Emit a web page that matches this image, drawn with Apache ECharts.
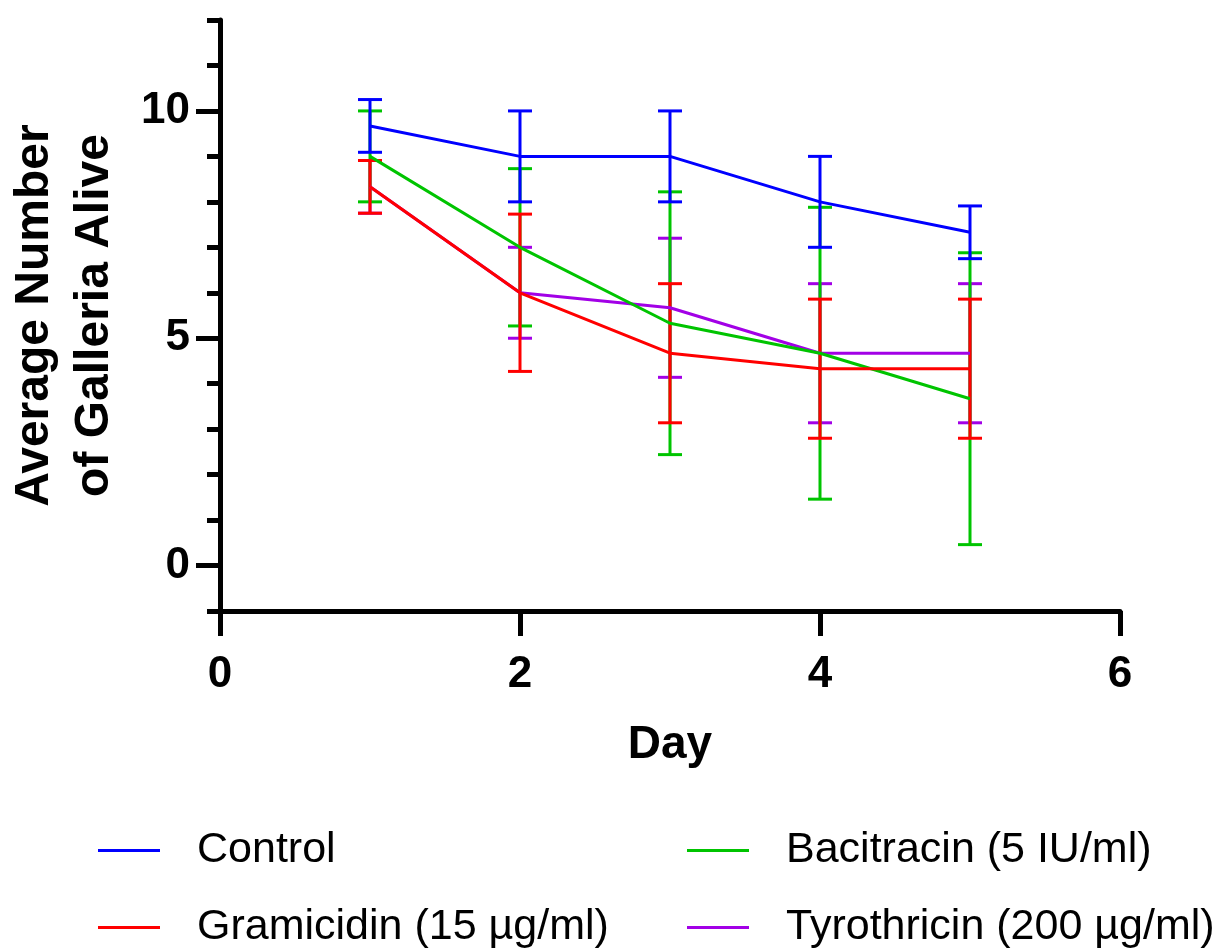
<!DOCTYPE html>
<html>
<head>
<meta charset="utf-8">
<title>Galleria survival</title>
<script src="https://cdn.jsdelivr.net/npm/echarts@6/dist/echarts.min.js"></script>
<style>
  html, body { margin: 0; padding: 0; background: #fff; }
  #chart { width: 1222px; height: 948px; }
</style>
</head>
<body>
<div id="chart"></div>
<script>
const days = [1, 2, 3, 4, 5]
const majorTicks = [0, 5, 10]

const controlMean = [9.67, 9, 9, 8, 7.33]
const controlSd = [0.58, 1, 1, 1, 0.58]
const bacitracinMean = [9, 7, 5.33, 4.67, 3.67]
const bacitracinSd = [1, 1.73, 2.89, 3.21, 3.21]
const gramicidinMean = [8.33, 6, 4.67, 4.33, 4.33]
const gramicidinSd = [0.58, 1.73, 1.53, 1.53, 1.53]
const tyrothricinMean = [8.33, 6, 5.67, 4.67, 4.67]
const tyrothricinSd = [0.58, 1, 1.53, 1.53, 1.53]

const font = '"Liberation Sans", Arial, sans-serif'

// drawn bottom to top
const groups = [
  { name: 'Tyrothricin (200 µg/ml)', color: '#a200e6', mean: tyrothricinMean, sd: tyrothricinSd },
  { name: 'Bacitracin (5 IU/ml)', color: '#00c400', mean: bacitracinMean, sd: bacitracinSd },
  { name: 'Gramicidin (15 µg/ml)', color: '#ff0000', mean: gramicidinMean, sd: gramicidinSd },
  { name: 'Control', color: '#0000ff', mean: controlMean, sd: controlSd },
]

function errorBar(color) {
  return function (params, api) {
    const x = api.value(0)
    const lo = api.coord([x, api.value(1)])
    const hi = api.coord([x, api.value(2)])
    const half = 12
    const style = { stroke: color, lineWidth: 3 }
    return {
      type: 'group',
      children: [
        { type: 'line', shape: { x1: lo[0], y1: lo[1], x2: hi[0], y2: hi[1] }, style },
        { type: 'line', shape: { x1: hi[0] - half, y1: hi[1], x2: hi[0] + half, y2: hi[1] }, style },
        { type: 'line', shape: { x1: lo[0] - half, y1: lo[1], x2: lo[0] + half, y2: lo[1] }, style },
      ],
    }
  }
}

const series = []
groups.forEach((g) => {
  series.push({
    name: g.name,
    type: 'line',
    showSymbol: false,
    color: g.color,
    lineStyle: { color: g.color, width: 3 },
    data: days.map((d, i) => [d, g.mean[i]]),
  })
  series.push({
    name: g.name + ' SD',
    type: 'custom',
    renderItem: errorBar(g.color),
    encode: { x: 0, y: [1, 2] },
    data: days.map((d, i) => [d, g.mean[i] - g.sd[i], g.mean[i] + g.sd[i]]),
  })
})

const legendBase = {
  orient: 'vertical',
  top: 829,
  height: 160,
  padding: 0,
  itemWidth: 62,
  itemHeight: 3,
  itemGap: 34,
  icon: 'rect',
  selectedMode: false,
  textStyle: { fontFamily: font, fontSize: 43, color: '#000', padding: [0, 0, 0, 32] },
}

const chart = echarts.init(document.getElementById('chart'))
chart.setOption({
  animation: false,
  grid: { left: 220, right: 102, top: 20, height: 591, outerBoundsMode: 'none', containLabel: false },
  legend: [
    Object.assign({}, legendBase, { left: 98, data: ['Control', 'Gramicidin (15 µg/ml)'] }),
    Object.assign({}, legendBase, { left: 687, data: ['Bacitracin (5 IU/ml)', 'Tyrothricin (200 µg/ml)'] }),
  ],
  xAxis: {
    type: 'value',
    min: 0,
    max: 6,
    interval: 2,
    name: 'Day',
    nameLocation: 'middle',
    nameGap: 111,
    nameTextStyle: { fontFamily: font, fontSize: 46, fontWeight: 'bold', color: '#000' },
    axisLine: { onZero: false, lineStyle: { color: '#000', width: 5 } },
    axisTick: { length: 25, lineStyle: { color: '#000', width: 5 } },
    axisLabel: { margin: 42, fontFamily: font, fontSize: 44, fontWeight: 'bold', color: '#000' },
    splitLine: { show: false },
  },
  yAxis: [
    {
      type: 'value',
      min: -1,
      max: 12,
      interval: 1,
      name: 'Average Number\nof Galleria Alive',
      nameLocation: 'middle',
      nameRotate: 90,
      nameGap: 95,
      nameTextStyle: { fontFamily: font, fontSize: 48, fontWeight: 'bold', color: '#000', lineHeight: 60 },
      axisLine: { show: true, onZero: false, lineStyle: { color: '#000', width: 5 } },
      axisTick: { show: true, length: 13, lineStyle: { color: '#000', width: 5 } },
      axisLabel: { show: false },
      splitLine: { show: false },
    },
    {
      type: 'value',
      min: -1,
      max: 12,
      position: 'left',
      axisLine: { show: false },
      axisTick: { show: true, length: 24, customValues: majorTicks, lineStyle: { color: '#000', width: 5 } },
      axisLabel: { show: true, customValues: majorTicks, margin: 30, fontFamily: font, fontSize: 44, fontWeight: 'bold', color: '#000' },
      splitLine: { show: false },
    },
  ],
  series,
})
</script>
</body>
</html>
